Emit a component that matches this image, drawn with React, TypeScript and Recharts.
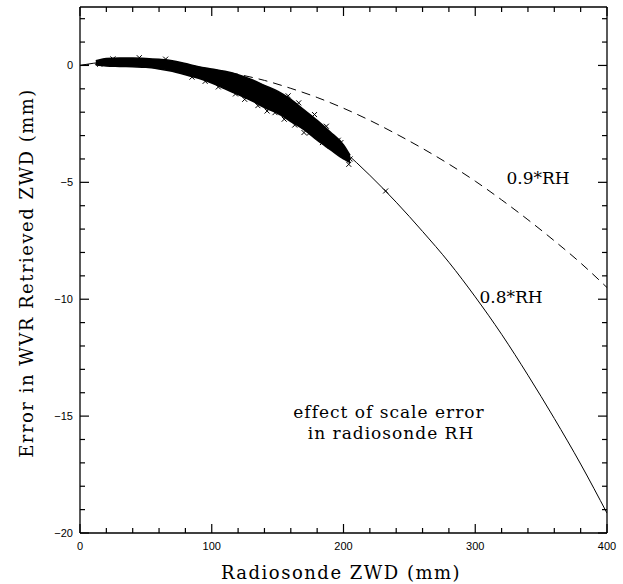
import React from "react";
import {
  ComposedChart,
  XAxis,
  YAxis,
  Line,
  Area,
  Scatter,
  Customized,
} from "recharts";

// model curves, every 20 mm
const curveX = [0, 20, 40, 60, 80, 100, 120, 140, 160, 180, 200, 220, 240, 260, 280, 300, 320, 340, 360, 380, 400];
const rh08 = [0, 0.15, 0.18, 0.12, -0.05, -0.33, -0.75, -1.28, -1.93, -2.72, -3.65, -4.7, -5.85, -7.1, -8.42, -9.9, -11.5, -13.25, -15.1, -17.05, -19.15];
const rh09 = [0, 0.08, 0.1, 0.07, -0.02, -0.17, -0.38, -0.64, -0.98, -1.37, -1.83, -2.35, -2.93, -3.55, -4.22, -4.95, -5.75, -6.6, -7.5, -8.45, -9.5];

// envelope of the dense cloud of radiosonde points
const bandX = [12, 20, 30, 40, 50, 60, 70, 80, 90, 100, 110, 120, 130, 140, 150, 160, 170, 180, 190, 200, 205];
const bandTop = [0.2, 0.3, 0.32, 0.32, 0.3, 0.26, 0.2, 0.08, -0.05, -0.15, -0.25, -0.4, -0.6, -0.85, -1.1, -1.45, -1.9, -2.35, -2.85, -3.4, -3.85];
const bandBottom = [0.02, -0.02, -0.04, -0.06, -0.08, -0.15, -0.25, -0.4, -0.55, -0.75, -1.0, -1.25, -1.5, -1.8, -2.05, -2.4, -2.75, -3.2, -3.6, -4.0, -4.15];

// individual crosses standing out of the cloud
const crossX = [15, 25, 45, 65, 85, 95, 105, 118, 125, 135, 142, 148, 155, 158, 163, 166, 170, 174, 178, 180, 184, 187, 190, 193, 196, 198, 199, 202, 204, 205, 232];
const crossY = [0.05, 0.28, 0.33, 0.27, -0.5, -0.68, -0.92, -1.22, -1.45, -1.72, -1.95, -2.02, -2.3, -1.3, -2.55, -1.6, -2.87, -2.9, -2.1, -3.0, -3.3, -2.6, -3.44, -3.55, -3.2, -3.3, -3.73, -3.9, -4.23, -4.0, -5.37];

const xTicks = [0, 20, 40, 60, 80, 100, 120, 140, 160, 180, 200, 220, 240, 260, 280, 300, 320, 340, 360, 380, 400];
const yTicks = [-20, -19, -18, -17, -16, -15, -14, -13, -12, -11, -10, -9, -8, -7, -6, -5, -4, -3, -2, -1, 0, 1, 2];

const sans = "Liberation Sans, Arial, sans-serif";
const serif = "DejaVu Serif, serif";

const lineData08 = curveX.map((x, i) => ({ x, y: rh08[i] }));
const lineData09 = curveX.map((x, i) => ({ x, y: rh09[i] }));
const bandData = bandX.map((x, i) => ({ x, band: [bandBottom[i], bandTop[i]] }));
const crossData = crossX.map((x, i) => ({ x, y: crossY[i] }));

const fmt = (v: number) => String(v).replace("-", "\u2212");

const BottomTick = (props: any) => {
  const { x, y, payload } = props;
  const major = payload.value % 100 === 0;
  return (
    <g>
      <path d={`M${x},${y}V${y - (major ? 9 : 5)}`} stroke="#000" strokeWidth={1.2} fill="none" />
      {major && (
        <text x={x} y={y + 17} textAnchor="middle" fontSize={11} fontFamily={sans} fill="#000">
          {payload.value}
        </text>
      )}
    </g>
  );
};

const TopTick = (props: any) => {
  const { x, y, payload } = props;
  const major = payload.value % 100 === 0;
  return <path d={`M${x},${y}V${y + (major ? 9 : 5)}`} stroke="#000" strokeWidth={1.2} fill="none" />;
};

const LeftTick = (props: any) => {
  const { x, y, payload } = props;
  const major = payload.value % 5 === 0;
  return (
    <g>
      <path d={`M${x},${y}H${x + (major ? 9 : 5)}`} stroke="#000" strokeWidth={1.2} fill="none" />
      {major && (
        <text x={x - 7} y={y + 4} textAnchor="end" fontSize={11} fontFamily={sans} fill="#000">
          {fmt(payload.value)}
        </text>
      )}
    </g>
  );
};

const RightTick = (props: any) => {
  const { x, y, payload } = props;
  const major = payload.value % 5 === 0;
  return <path d={`M${x},${y}H${x - (major ? 9 : 5)}`} stroke="#000" strokeWidth={1.2} fill="none" />;
};

const CrossShape = (props: any) => {
  const { cx, cy } = props;
  const s = 2.5;
  return (
    <g stroke="#000" strokeWidth={1}>
      <line x1={cx - s} y1={cy - s} x2={cx + s} y2={cy + s} />
      <line x1={cx - s} y1={cy + s} x2={cx + s} y2={cy - s} />
    </g>
  );
};

const Texts = () => (
  <g fontFamily={serif} fill="#000">
    <text x={341} y={579} textAnchor="middle" fontSize={18} letterSpacing={1.5}>
      Radiosonde ZWD (mm)
    </text>
    <text
      x={33}
      y={273}
      textAnchor="middle"
      fontSize={18}
      letterSpacing={1.5}
      transform="rotate(-90 33 273)"
    >
      Error in WVR Retrieved ZWD (mm)
    </text>
    <text x={538} y={184} textAnchor="middle" fontSize={17}>
      0.9*RH
    </text>
    <text x={511} y={303} textAnchor="middle" fontSize={17}>
      0.8*RH
    </text>
    <text x={389} y={418} textAnchor="middle" fontSize={17} letterSpacing={1}>
      effect of scale error
    </text>
    <text x={391} y={439} textAnchor="middle" fontSize={17} letterSpacing={1}>
      in radiosonde RH
    </text>
  </g>
);

export default function App() {
  return (
    <div style={{ position: "absolute", left: 0, top: 0, background: "#fff" }}>
      <ComposedChart width={623} height={584} margin={{ top: 7, right: 16, bottom: 21, left: 40 }}>
        <XAxis
          dataKey="x"
          type="number"
          domain={[0, 400]}
          ticks={xTicks}
          interval={0}
          allowDataOverflow
          height={30}
          tickSize={0}
          tickMargin={0}
          tickLine={false}
          tick={<BottomTick />}
          axisLine={{ stroke: "#000", strokeWidth: 1.3 }}
        />
        <XAxis
          xAxisId="top"
          dataKey="x"
          orientation="top"
          type="number"
          domain={[0, 400]}
          ticks={xTicks}
          interval={0}
          allowDataOverflow
          height={1}
          mirror
          tickSize={0}
          tickMargin={0}
          tickLine={false}
          tick={<TopTick />}
          axisLine={{ stroke: "#000", strokeWidth: 1.3 }}
        />
        <YAxis
          type="number"
          domain={[-20, 2.5]}
          ticks={yTicks}
          interval={0}
          allowDataOverflow
          width={40}
          tickSize={0}
          tickMargin={0}
          tickLine={false}
          tick={<LeftTick />}
          axisLine={{ stroke: "#000", strokeWidth: 1.3 }}
        />
        <YAxis
          yAxisId="right"
          orientation="right"
          type="number"
          domain={[-20, 2.5]}
          ticks={yTicks}
          interval={0}
          allowDataOverflow
          width={1}
          mirror
          tickSize={0}
          tickMargin={0}
          tickLine={false}
          tick={<RightTick />}
          axisLine={{ stroke: "#000", strokeWidth: 1.3 }}
        />
        <Area
          data={bandData}
          dataKey="band"
          type="monotoneX"
          stroke="#000"
          strokeWidth={1.5}
          fill="#000"
          fillOpacity={1}
          isAnimationActive={false}
        />
        <Line
          data={lineData09}
          dataKey="y"
          type="monotoneX"
          stroke="#000"
          strokeWidth={1}
          strokeDasharray="9 6"
          dot={false}
          isAnimationActive={false}
        />
        <Line
          data={lineData08}
          dataKey="y"
          type="monotoneX"
          stroke="#000"
          strokeWidth={1}
          dot={false}
          isAnimationActive={false}
        />
        <Scatter
          data={crossData}
          dataKey="y"
          xAxisId="top"
          yAxisId="right"
          shape={<CrossShape />}
          isAnimationActive={false}
        />
        <Customized component={<Texts />} />
      </ComposedChart>
    </div>
  );
}
